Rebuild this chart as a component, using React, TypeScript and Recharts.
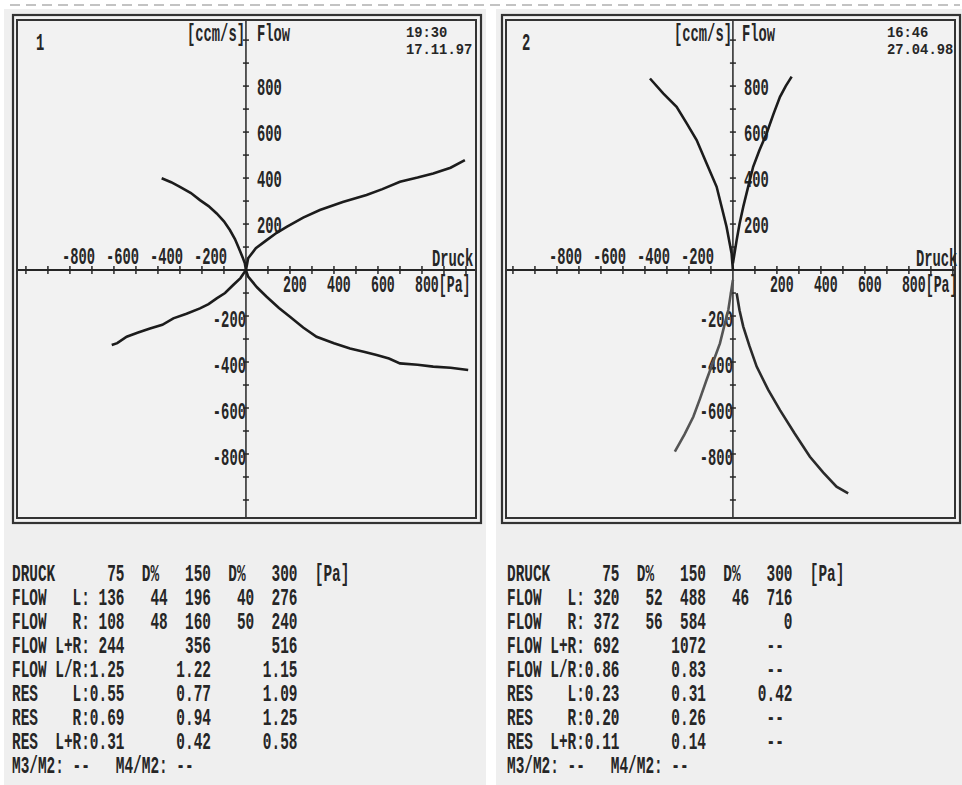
import React from 'react';
import { ScatterChart, Scatter, XAxis, YAxis, ReferenceLine, ReferenceDot } from 'recharts';

// ---- Curve data: Druck [Pa] (x) vs Flow [ccm/s] (y) ----
const p1UpperRight = [
  { x: 0, y: 0 }, { x: 10, y: 51 }, { x: 45, y: 95 }, { x: 94, y: 130 }, { x: 140, y: 162 },
  { x: 185, y: 188 }, { x: 260, y: 228 }, { x: 336, y: 261 }, { x: 440, y: 296 },
  { x: 548, y: 326 }, { x: 620, y: 352 }, { x: 700, y: 384 }, { x: 780, y: 402 },
  { x: 851, y: 420 }, { x: 930, y: 445 }, { x: 995, y: 478 },
];
const p1UpperLeft = [
  { x: -383, y: 399 }, { x: -340, y: 382 }, { x: -300, y: 362 }, { x: -250, y: 335 },
  { x: -209, y: 304 }, { x: -170, y: 278 }, { x: -133, y: 246 }, { x: -100, y: 212 },
  { x: -73, y: 174 }, { x: -50, y: 135 }, { x: -35, y: 101 }, { x: -15, y: 55 }, { x: -5, y: 29 }, { x: 0, y: 0 },
];
const p1LowerLeft = [
  { x: -610, y: -326 }, { x: -585, y: -318 }, { x: -542, y: -290 }, { x: -490, y: -272 },
  { x: -436, y: -254 }, { x: -380, y: -238 }, { x: -330, y: -210 }, { x: -270, y: -190 },
  { x: -209, y: -167 }, { x: -170, y: -148 }, { x: -133, y: -123 }, { x: -95, y: -100 },
  { x: -58, y: -65 }, { x: -25, y: -35 }, { x: 0, y: 0 },
];
const p1LowerRight = [
  { x: 0, y: 0 }, { x: 10, y: -29 }, { x: 50, y: -75 }, { x: 94, y: -116 }, { x: 150, y: -165 },
  { x: 200, y: -203 }, { x: 260, y: -250 }, { x: 321, y: -290 }, { x: 400, y: -318 },
  { x: 473, y: -341 }, { x: 540, y: -356 }, { x: 594, y: -370 }, { x: 650, y: -385 },
  { x: 700, y: -406 }, { x: 780, y: -412 }, { x: 851, y: -420 }, { x: 930, y: -425 }, { x: 1010, y: -435 },
];

const p2UpperLeft = [
  { x: -377, y: 833 }, { x: -317, y: 768 }, { x: -256, y: 710 }, { x: -210, y: 638 },
  { x: -165, y: 565 }, { x: -120, y: 464 }, { x: -74, y: 362 }, { x: -50, y: 270 },
  { x: -29, y: 188 }, { x: -6, y: 72 }, { x: 0, y: 0 },
];
const p2UpperRight = [
  { x: 0, y: 29 }, { x: 17, y: 130 }, { x: 30, y: 200 }, { x: 47, y: 275 }, { x: 70, y: 365 },
  { x: 92, y: 449 }, { x: 120, y: 520 }, { x: 153, y: 594 }, { x: 185, y: 680 },
  { x: 214, y: 753 }, { x: 240, y: 800 }, { x: 267, y: 841 },
];
const p2LowerLeft = [
  { x: 0, y: -43 }, { x: -21, y: -174 }, { x: -40, y: -245 }, { x: -59, y: -319 },
  { x: -90, y: -400 }, { x: -120, y: -478 }, { x: -150, y: -560 }, { x: -180, y: -638 },
  { x: -220, y: -715 }, { x: -264, y: -790 },
];
const p2LowerRight = [
  { x: 17, y: -101 }, { x: 30, y: -175 }, { x: 47, y: -246 }, { x: 75, y: -330 },
  { x: 108, y: -420 }, { x: 160, y: -520 }, { x: 214, y: -609 }, { x: 280, y: -710 },
  { x: 350, y: -812 }, { x: 410, y: -880 }, { x: 471, y: -942 }, { x: 524, y: -971 },
];

// ---- Axis ticks / labels ----
const tickValues = [-1000, -900, -800, -700, -600, -500, -400, -300, -200, -100, 100, 200, 300, 400, 500, 600, 700, 800, 900, 1000];
const xNegLabels = [-800, -600, -400, -200];
const xPosLabels = [200, 400, 600, 800];
const xPosLabelText = ['200', '400', '600', '800[Pa]'];
const yPosLabels = [800, 600, 400, 200];
const yNegLabels = [-200, -400, -600, -800];

// ---- Table data ----
const pressures = [75, 150, 300];
const rowLabels = ['FLOW   L:', 'FLOW   R:', 'FLOW L+R:', 'FLOW L/R:', 'RES    L:', 'RES    R:', 'RES  L+R:'];
const p1Col75 = ['136', '108', '244', '1.25', '0.55', '0.69', '0.31'];
const p1ColD1 = ['44', '48', '', '', '', '', ''];
const p1Col150 = ['196', '160', '356', '1.22', '0.77', '0.94', '0.42'];
const p1ColD2 = ['40', '50', '', '', '', '', ''];
const p1Col300 = ['276', '240', '516', '1.15', '1.09', '1.25', '0.58'];
const p2Col75 = ['320', '372', '692', '0.86', '0.23', '0.20', '0.11'];
const p2ColD1 = ['52', '56', '', '', '', '', ''];
const p2Col150 = ['488', '584', '1072', '0.83', '0.31', '0.26', '0.14'];
const p2ColD2 = ['46', '', '', '', '', '', ''];
const p2Col300 = ['716', '0', '--', '--', '0.42', '--', '--'];
const footerText = 'M3/M2: --   M4/M2: --';

const INK = '#262626';
const FONT = '"Liberation Mono", "DejaVu Sans Mono", monospace';

function PT({ x, y, s = 0.6, size = 23, anchor = 'start', children, fill = INK }: any) {
  return (
    <text
      transform={`translate(${x} ${y}) scale(${s} 1)`}
      textAnchor={anchor}
      fontFamily={FONT}
      fontWeight="bold"
      fontSize={size}
      fill={fill}
      style={{ whiteSpace: 'pre' }}
    >
      {children}
    </text>
  );
}

function headerLine() {
  return 'DRUCK'.padEnd(9) + String(pressures[0]).padStart(4) + '  D%' + String(pressures[1]).padStart(6) + '  D%' + String(pressures[2]).padStart(6) + '  [Pa]';
}
function rowLine(i: number, c1: string[], d1: string[], c2: string[], d2: string[], c3: string[]) {
  const v3 = c3[i] === '--' ? '  -- ' : c3[i].padStart(5);
  return rowLabels[i] + c1[i].padStart(4) + d1[i].padStart(5) + c2[i].padStart(5) + d2[i].padStart(5) + v3;
}

function Panel({ left, top, width, height, xDomain, yDomain, curves }: any) {
  return (
    <div style={{ position: 'absolute', left, top, width, height }}>
      <ScatterChart width={width} height={height} margin={{ top: 0, right: 0, bottom: 0, left: 0 }}>
        <XAxis type="number" dataKey="x" domain={xDomain} hide allowDataOverflow />
        <YAxis type="number" dataKey="y" domain={yDomain} hide allowDataOverflow />
        <ReferenceLine x={0} stroke={INK} strokeWidth={1.5} />
        <ReferenceLine y={0} stroke={INK} strokeWidth={2} />
        {tickValues.map((v) => (
          <ReferenceDot key={'xt' + v} x={v} y={0} r={0}
            shape={(p: any) => <line x1={p.cx} x2={p.cx} y1={p.cy - 4} y2={p.cy + 4} stroke={INK} strokeWidth={1.5} />} />
        ))}
        {tickValues.map((v) => (
          <ReferenceDot key={'yt' + v} x={0} y={v} r={0}
            shape={(p: any) => <line x1={p.cx - 3} x2={p.cx + 3} y1={p.cy} y2={p.cy} stroke={INK} strokeWidth={1.5} />} />
        ))}
        {xNegLabels.map((v) => (
          <ReferenceDot key={'xnl' + v} x={v} y={0} r={0}
            shape={(p: any) => <PT x={p.cx - 8} y={p.cy - 6}>{String(v)}</PT>} />
        ))}
        {xPosLabels.map((v, i) => (
          <ReferenceDot key={'xpl' + v} x={v} y={0} r={0}
            shape={(p: any) => <PT x={p.cx - 7} y={p.cy + 22} s={0.575}>{xPosLabelText[i]}</PT>} />
        ))}
        {yPosLabels.map((v) => (
          <ReferenceDot key={'ypl' + v} x={0} y={v} r={0}
            shape={(p: any) => <PT x={p.cx + 11} y={p.cy + 9}>{String(v)}</PT>} />
        ))}
        {yNegLabels.map((v) => (
          <ReferenceDot key={'ynl' + v} x={0} y={v} r={0}
            shape={(p: any) => <PT x={p.cx} y={p.cy + 11} anchor="end">{String(v)}</PT>} />
        ))}
        {curves.map((c: any, i: number) => (
          <Scatter key={i} data={c.data} line={{ stroke: c.color, strokeWidth: 2.6 }} lineType="joint"
            shape={() => <g />} isAnimationActive={false} />
        ))}
      </ScatterChart>
    </div>
  );
}

export default function App() {
  const rows = rowLabels.map((_, i) => i);
  return (
    <div style={{ position: 'absolute', left: 0, top: 0, width: 962, height: 785, background: '#ffffff', overflow: 'hidden' }}>
      <style>{'.recharts-surface{overflow:visible}'}</style>
      <svg width={962} height={785} style={{ position: 'absolute', left: 0, top: 0 }}>
        <rect x={4} y={9} width={482} height={776} fill="#efefef" />
        <rect x={496} y={9} width={466} height={776} fill="#efefef" />
        <line x1={10} x2={960} y1={5} y2={5} stroke="#b0b0b0" strokeWidth={1.5} strokeDasharray="10 6" />
        <rect x={13} y={15} width={468} height={508} fill="#f2f2f2" stroke="#333" strokeWidth={2.2} />
        <rect x={17} y={20} width={459} height={498} fill="none" stroke="#333" strokeWidth={2} />
        <rect x={502} y={15} width={458} height={508} fill="#f2f2f2" stroke="#333" strokeWidth={2.2} />
        <rect x={506} y={20} width={449} height={498} fill="none" stroke="#333" strokeWidth={2} />
      </svg>

      <Panel left={18} top={21} width={457} height={496} xDomain={[-1036, 1041]} yDomain={[-1074, 1083]}
        curves={[
          { data: p1UpperRight, color: '#1c1c1c' },
          { data: p1UpperLeft, color: '#1c1c1c' },
          { data: p1LowerLeft, color: '#1c1c1c' },
          { data: p1LowerRight, color: '#1c1c1c' },
        ]} />
      <Panel left={507} top={21} width={447} height={496} xDomain={[-1027, 1005]} yDomain={[-1074, 1083]}
        curves={[
          { data: p2UpperLeft, color: '#1c1c1c' },
          { data: p2UpperRight, color: '#1c1c1c' },
          { data: p2LowerLeft, color: '#555555' },
          { data: p2LowerRight, color: '#2a2a2a' },
        ]} />

      <svg width={962} height={785} style={{ position: 'absolute', left: 0, top: 0, pointerEvents: 'none' }}>
        {/* Panel 1 annotations */}
        <PT x={36} y={50}>1</PT>
        <PT x={187} y={41}>[ccm/s]</PT>
        <PT x={257} y={41}>Flow</PT>
        <PT x={406} y={37} size={15} s={0.92}>19:30</PT>
        <PT x={406} y={54} size={15} s={0.92}>17.11.97</PT>
        <PT x={432} y={266}>Druck</PT>
        {/* Panel 2 annotations */}
        <PT x={522} y={50}>2</PT>
        <PT x={674} y={41}>[ccm/s]</PT>
        <PT x={742} y={41}>Flow</PT>
        <PT x={887} y={37} size={15} s={0.92}>16:46</PT>
        <PT x={887} y={54} size={15} s={0.92}>27.04.98</PT>
        <PT x={916} y={266}>Druck</PT>

        {/* Tables */}
        <PT x={12} y={581} s={0.627}>{headerLine()}</PT>
        {rows.map((i) => (
          <PT key={'t1' + i} x={12} y={605 + i * 24} s={0.627}>{rowLine(i, p1Col75, p1ColD1, p1Col150, p1ColD2, p1Col300)}</PT>
        ))}
        <PT x={12} y={773} s={0.627}>{footerText}</PT>

        <PT x={507} y={581} s={0.627}>{headerLine()}</PT>
        {rows.map((i) => (
          <PT key={'t2' + i} x={507} y={605 + i * 24} s={0.627}>{rowLine(i, p2Col75, p2ColD1, p2Col150, p2ColD2, p2Col300)}</PT>
        ))}
        <PT x={507} y={773} s={0.627}>{footerText}</PT>
      </svg>
    </div>
  );
}
